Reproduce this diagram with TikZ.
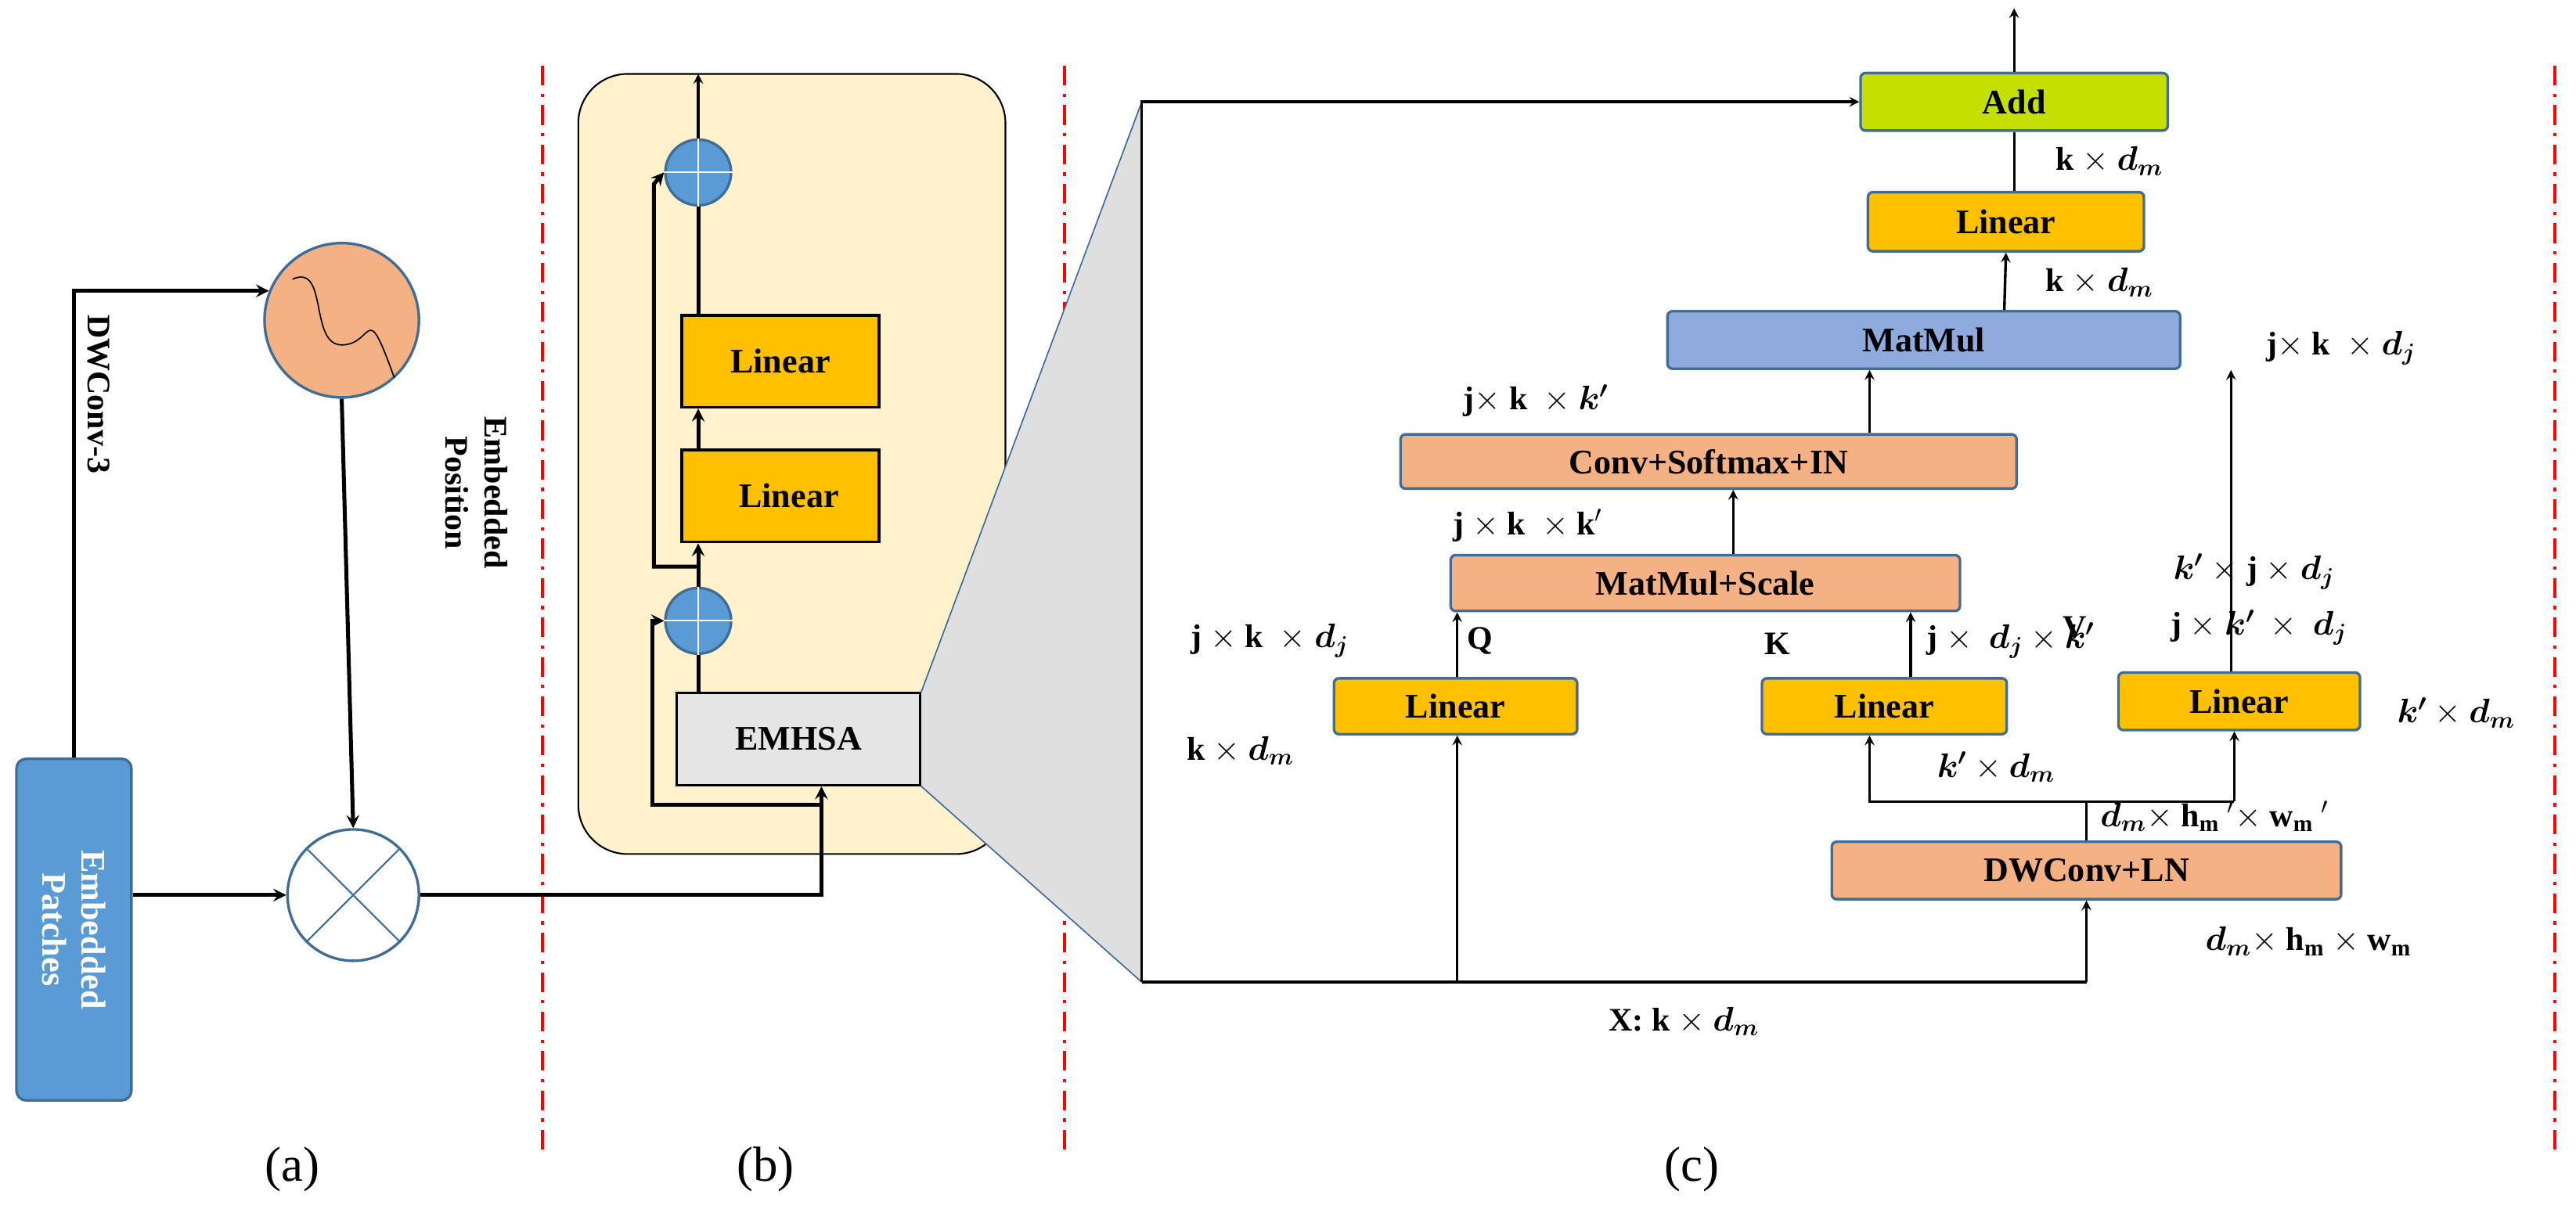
\documentclass[tikz,border=0pt]{standalone}
\usepackage{amsmath}
\usepackage{fontspec}
\setmainfont{Liberation Serif}
\usetikzlibrary{calc}
\definecolor{ylw}{HTML}{FFC000}
\definecolor{sal}{HTML}{F4B183}
\definecolor{blu}{HTML}{5B9BD5}
\definecolor{lav}{HTML}{8FAADC}
\definecolor{grn}{HTML}{C5E000}
\definecolor{crm}{HTML}{FFF2CC}
\tikzset{
  blk/.style={draw=blu!70!black, rounded corners=3pt, font=\fontsize{21}{24}\selectfont\bfseries, inner sep=0pt},
  lbl/.style={font=\fontsize{20}{24}\selectfont\bfseries},
  captxt/.style={font=\fontsize{30}{34}\selectfont},
  sep/.style={red, line width=2pt, dash pattern=on 12pt off 5pt on 2pt off 5pt},
}
\begin{document}
\begin{tikzpicture}[x=1pt, y=-1pt, line width=1.6pt, >=stealth]
\useasboundingbox (0,0) rectangle (1568,740);
% separators
\draw[sep] (330,40) -- (330,700);
\draw[sep] (648,40) -- (648,700);
\draw[sep] (1555,40) -- (1555,700);

% (a)
\node[draw=blu!70!black, fill=blu, rounded corners=6pt, minimum width=70pt, minimum height=208pt] (Patches) at (45,566) {};
\node[rotate=-90, text=white, align=center, font=\fontsize{21}{24}\selectfont\bfseries] (Patches Txt) at (45,566) {Embedded\\Patches};
\node[circle, draw=blu!70!black, fill=sal, minimum size=94pt] (Pos) at (208,195) {};
\draw[thick] (178,170) .. controls (200,160) and (188,210) .. (208,210) .. controls (228,210) and (222,180) .. (240,230);
\node[circle, draw=blu!70!black, fill=white, minimum size=80pt] (Mul) at (215,545) {};
\draw[blu!70!black, line width=1pt] (Mul.45) -- (Mul.225) (Mul.135) -- (Mul.315);
\draw[->, line width=2.4pt] (Patches.north) |- (Pos.158);
\node[lbl, rotate=-90] (DWConv3) at (60,240) {DWConv-3};
\node[lbl, rotate=-90, align=center] (EmbPos) at (290,300) {Embedded\\Position};
\draw[->, line width=2.4pt] (Pos.south) -- (Mul.north);
\draw[->, line width=2.4pt] (Patches.east |- Mul) -- (Mul.west);

% (b)
\draw[fill=crm, rounded corners=30pt, line width=1pt] (352,45) rectangle (612,520);
\node[circle, draw=blu!70!black, fill=blu, minimum size=40pt] (Sum 1) at (425,105) {};
\draw[white, line width=1pt] (Sum 1.north) -- (Sum 1.south) (Sum 1.west) -- (Sum 1.east);
\node[circle, draw=blu!70!black, fill=blu, minimum size=40pt] (Sum 2) at (425,378) {};
\draw[white, line width=1pt] (Sum 2.north) -- (Sum 2.south) (Sum 2.west) -- (Sum 2.east);
\node[blk, draw=black, fill=ylw, rounded corners=0pt, minimum width=120pt, minimum height=56pt] (Linear B1) at (475,220) {Linear};
\node[blk, draw=black, fill=ylw, rounded corners=0pt, minimum width=120pt, minimum height=56pt] (Linear B2) at (475,302) {\ \ Linear};
\node[blk, draw=black, fill=gray!20, rounded corners=0pt, minimum width=148pt, minimum height=56pt] (EMHSA) at (486,450) {EMHSA\hspace{25pt}};
\draw[->, line width=2.4pt] (Sum 2.north) -- (Sum 2.north |- Linear B2.south);
\draw[->, line width=2.4pt] (Sum 2.north |- Linear B2.north) -- (Sum 2.north |- Linear B1.south);
\draw[line width=2.4pt] (Sum 2.north |- Linear B1.north) -- (Sum 1.south);
\draw[->, line width=1.6pt] (Sum 1.north) -- (425,45);
\draw[->, line width=2.4pt] (425,345) -| (398,112) -- (Sum 1.west);
\draw[->, line width=2.4pt] (500,490) -| (397,378) -- (Sum 2.west);
\draw[line width=2.4pt] (Sum 2.south) -- (Sum 2.south |- EMHSA.north);
\draw[->, line width=2.4pt] (Mul.east) -- (500,545) -- (EMHSA.south -| 500,0);

% zoom wedge
\fill[gray!25] (EMHSA.north east) -- (695,62) -- (695,598) -- (EMHSA.south east) -- cycle;
\draw[blu!70!black, line width=0.8pt] (EMHSA.north east) -- (695,62) (EMHSA.south east) -- (695,598);

% (c)
\node[blk, fill=grn, minimum width=187pt, minimum height=35pt] (Add) at (1226,62) {Add};
\node[blk, fill=ylw, minimum width=168pt, minimum height=36pt] (Linear O) at (1221,135) {Linear};
\node[blk, fill=lav, minimum width=312pt, minimum height=35pt] (MatMul) at (1171,207) {MatMul};
\node[blk, fill=sal, minimum width=375pt, minimum height=33pt] (ConvSm) at (1040,281) {Conv+Softmax+IN};
\node[blk, fill=sal, minimum width=310pt, minimum height=34pt] (MMScale) at (1038,355) {MatMul+Scale};
\node[blk, fill=ylw, minimum width=148pt, minimum height=34pt] (Linear Q) at (886,430) {Linear};
\node[blk, fill=ylw, minimum width=149pt, minimum height=34pt] (Linear K) at (1147,430) {Linear};
\node[blk, fill=ylw, minimum width=147pt, minimum height=35pt] (Linear V) at (1363,427) {Linear};
\node[blk, fill=sal, minimum width=310pt, minimum height=35pt] (DWConv) at (1270,530) {DWConv+LN};

\coordinate (X top) at (695,62);
\coordinate (X bot) at (695,598);
\draw[->] (X bot) -- (X top) -- (Add.west);
\draw (X bot) -- (1270,598);
\draw[->] (887,598) -- (Linear Q.south -| 887,0);
\draw[->] (1270,598) -- (DWConv.south);
\draw (DWConv.north) -- (1270,488);
\draw[->] (1360,488) -- (1138,488) -- (Linear K.south -| 1138,0);
\draw[->] (1360,488) -- (Linear V.south -| 1360,0);
\draw[->] (Linear Q.north -| 887,0) -- (MMScale.south -| 887,0);
\draw[->] (Linear K.north -| 1163,0) -- (MMScale.south -| 1163,0);
\draw[->] (MMScale.north -| 1055,0) -- (ConvSm.south -| 1055,0);
\draw[->] (ConvSm.north -| 1138,0) -- (MatMul.south -| 1138,0);
\draw[->] (Linear V.north -| 1358,0) -- (MatMul.south -| 1358,0);
\draw[->] (MatMul.north -| 1220,0) -- (Linear O.south);
\draw (Linear O.north -| 1226,0) -- (Add.south);
\draw[->] (Add.north) -- (1226,5);

\node[lbl] (L1) at (1284,98) {k $\times\ \boldsymbol{d_m}$};
\node[lbl] (L2) at (1278,172) {k $\times\ \boldsymbol{d_m}$};
\node[lbl] (L3) at (1425,212) {j$\times$ k $\ \times\ \boldsymbol{d_j}$};
\node[lbl] (L4) at (935,244) {j$\times$ k $\ \times\ \boldsymbol{k'}$};
\node[lbl] (L5) at (930,320) {j $\times$ k $\ \times$ k$'$};
\node[lbl] (L6) at (1263,382) {V};
\node[lbl] (L7) at (1375,382) {j $\times\ \boldsymbol{k'}\ \times\ \boldsymbol{d_j}$};
\node[lbl] (L8) at (1372,348) {$\boldsymbol{k'}\ \times$ j $\times\ \boldsymbol{d_j}$};
\node[lbl] (L9) at (773,390) {j $\times$ k $\ \times\ \boldsymbol{d_j}$};
\node[lbl] (L10) at (901,390) {Q};
\node[lbl] (L11) at (1082,392) {K};
\node[lbl] (L12) at (1224,390) {j $\times\ \ \boldsymbol{d_j}\times\boldsymbol{k'}$};
\node[lbl] (L13) at (755,457) {k $\times\ \boldsymbol{d_m}$};
\node[lbl] (L14) at (1215,467) {$\boldsymbol{k'}\times\boldsymbol{d_m}$};
\node[lbl] (L15) at (1495,434) {$\boldsymbol{k'}\times\boldsymbol{d_m}$};
\node[lbl] (L16) at (1348,497) {$\boldsymbol{d_m}\times$ h$_\mathbf{m}$ $'\times$ w$_\mathbf{m}$ $'$};
\node[lbl] (L17) at (1405,573) {$\boldsymbol{d_m}\times$ h$_\mathbf{m}$ $\times$ w$_\mathbf{m}$};
\node[lbl] (L18) at (1025,622) {X: k $\times\ \boldsymbol{d_m}$};

\node[captxt] (Cap A) at (178,712) {(a)};
\node[captxt] (Cap B) at (466,712) {(b)};
\node[captxt] (Cap C) at (1030,712) {(c)};
\end{tikzpicture}
\end{document}
